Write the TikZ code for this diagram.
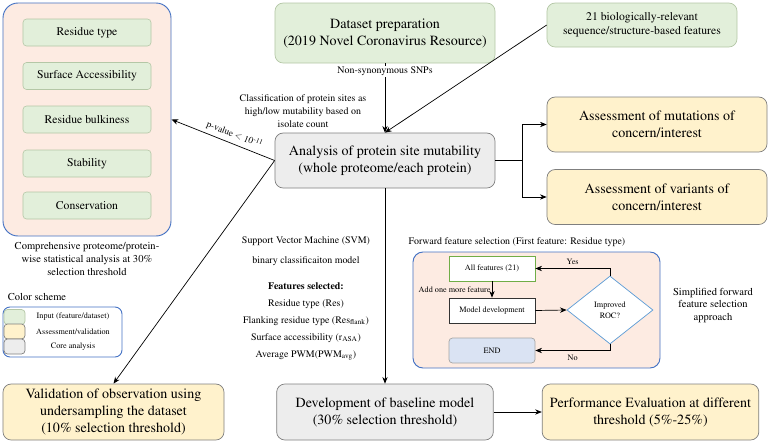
\documentclass[tikz,border=0pt]{standalone}
\usepackage[T1]{fontenc}
\usepackage{mathptmx}
\usetikzlibrary{shapes.geometric,arrows.meta,positioning}
\definecolor{inputgreen}{HTML}{E2EFDA}
\definecolor{inputedge}{HTML}{B4C7A6}
\definecolor{evalyellow}{HTML}{FFF2CC}
\definecolor{coregrey}{HTML}{EDEDED}
\definecolor{boxedge}{HTML}{7F7F7F}
\definecolor{panelpeach}{HTML}{FDEBE2}
\definecolor{panelblue}{HTML}{4472C4}
\definecolor{endblue}{HTML}{DAE3F3}
\definecolor{diamblue}{HTML}{5B9BD5}
\definecolor{allgreen}{HTML}{70AD47}
\newcommand{\fbig}{\fontsize{12}{14.5}\selectfont}
\newcommand{\fmid}{\fontsize{10}{12}\selectfont}
\newcommand{\fsmall}{\fontsize{8.5}{11}\selectfont}
\newcommand{\ftiny}{\fontsize{7}{9}\selectfont}

\begin{document}
\begin{tikzpicture}[
  x=0.03cm, y=-0.03cm,
  every node/.style={font=\fsmall},
  mbox/.style={rounded corners=7pt,minimum width=6.6cm,minimum height=1.65cm,
               align=center,font=\fbig,line width=0.6pt},
  inbox/.style={mbox,fill=inputgreen,draw=inputedge},
  evalbox/.style={mbox,fill=evalyellow,draw=boxedge},
  corebox/.style={mbox,fill=coregrey,draw=boxedge},
  panel/.style={fill=panelpeach,draw=panelblue,line width=0.8pt},
  featbox/.style={fill=inputgreen,draw=inputedge,rounded corners=3pt,
                  minimum width=3.84cm,minimum height=0.81cm,font=\fmid,line width=0.5pt},
  swatch/.style={rounded corners=3pt,minimum width=0.63cm,minimum height=0.45cm,
                 inner sep=0pt,line width=0.6pt},
  flowbox/.style={minimum width=2.58cm,minimum height=0.75cm,font=\ftiny,line width=0.6pt},
  arr/.style={-{Stealth[length=2mm,width=1.6mm]},line width=0.6pt},
  labl/.style={font=\fsmall,align=center}
]
\useasboundingbox (0,0) rectangle (770,443);

% Left panel — statistical analysis
\node[panel,rounded corners=0.45cm,minimum width=5.04cm,minimum height=6.99cm] (panel) at (87,119.5) {};
\node[featbox] (rtype) at (87,32.5)  {Residue type};
\node[featbox] (sacc)  at (87,76)    {Surface Accessibility};
\node[featbox] (bulk)  at (87,119.5) {Residue bulkiness};
\node[featbox] (stab)  at (87,163.5) {Stability};
\node[featbox] (cons)  at (87,205.5) {Conservation};
\node[labl,font=\fontsize{9}{11.5}\selectfont] (stattxt) at (87,259)
  {Comprehensive proteome/protein-\\wise statistical analysis at 30\%\\selection threshold};

% Colour scheme legend
\node[font=\fontsize{9}{11}\selectfont] (legtitle) at (37,297) {Color scheme};
\node[draw=panelblue,rounded corners=6pt,line width=0.8pt,minimum width=3.57cm,minimum height=1.5cm] (legend) at (62.5,332) {};
\node[swatch,fill=inputgreen,draw=inputedge] (sw1) at (14.5,317)   {};
\node[swatch,fill=evalyellow,draw=boxedge]   (sw2) at (14.5,331.5) {};
\node[swatch,fill=coregrey,draw=boxedge]     (sw3) at (14.5,346.5) {};
\node[font=\ftiny] (lg1) at (73,317)   {Input (feature/dataset)};
\node[font=\ftiny] (lg2) at (73,331.5) {Assessment/validation};
\node[font=\ftiny] (lg3) at (73,346.5) {Core analysis};

% Inputs
\node[inbox,minimum height=1.8cm] (dataset) at (385,33)
  {Dataset preparation\\(2019 Novel Coronavirus Resource)};
\node[inbox,font=\fmid,minimum width=5.7cm,minimum height=1.32cm] (feat21) at (642,25)
  {21 biologically-relevant\\sequence/structure-based features};
\node[labl] (classtxt) at (303,111)
  {Classification of protein sites as\\high/low mutability based on\\isolate count};

% Core analysis
\node[corebox] (analysis) at (385,160.5)
  {Analysis of protein site mutability\\(whole proteome/each protein)};

% Assessments
\node[evalbox] (mutations) at (657,124.5) {Assessment of mutations of\\concern/interest};
\node[evalbox] (variants)  at (657,197)   {Assessment of variants of\\concern/interest};
\node[evalbox,minimum width=6.63cm,minimum height=1.68cm] (valid) at (113.5,412)
  {Validation of observation using\\undersampling the dataset\\(10\% selection threshold)};

% Model
\node[labl] (svmtxt) at (306,298.5)
  {Support Vector Machine (SVM)\\[6pt]
   binary classificaiton model\\[11pt]
   \textbf{Features selected:}\\[3.5pt]
   Residue type (Res)\\[3.5pt]
   Flanking residue type (Res\textsubscript{flank})\\[3.5pt]
   Surface accessibility (r\textsubscript{ASA})\\[3.5pt]
   Average PWM(PWM\textsubscript{avg})};
\node[corebox,minimum width=6.5cm,minimum height=1.68cm] (baseline) at (385,412)
  {Development of baseline model\\(30\% selection threshold)};
\node[evalbox,minimum width=6.5cm,minimum height=1.68cm] (perf) at (650.5,412)
  {Performance Evaluation at different\\threshold (5\%-25\%)};

% Forward feature selection
\node (ffstitle) at (517,242) {Forward feature selection (First feature: Residue type)};
\node[panel,rounded corners=0.3cm,minimum width=7.41cm,minimum height=3.48cm] (ffs) at (536.5,310) {};
\node[flowbox,fill=white,draw=allgreen] (allf) at (492,268.5) {All features (21)};
\node[flowbox,fill=white,draw=black!80] (modeldev) at (492,310.5) {Model development};
\node[flowbox,fill=endblue,draw=boxedge!70,rounded corners=3pt] (endbox) at (492,350.5) {END};
\node[diamond,draw=diamblue,fill=white,line width=0.6pt,inner sep=0pt,
      minimum width=2.58cm,minimum height=2.04cm,font=\ftiny,align=center] (roc) at (610,310)
  {Improved\\ROC?};
\node[labl,font=\fontsize{9}{11}\selectfont] (simptxt) at (713,305.5)
  {Simplified forward\\feature selection\\approach};

% Arrows
\draw[arr] (dataset.south) -- node[pos=0.12,fill=white,inner sep=1pt] {Non-synonymous SNPs} (analysis.north);
\draw[arr] (feat21.west) -- (analysis.north);
\draw[arr] (analysis.east) -- ++(27,0) |- (mutations.west);
\draw[arr] (analysis.east) -- ++(27,0) |- (variants.west);
\draw[arr] (analysis.west) -- node[sloped,above,pos=0.42,font=\fontsize{8}{10}\selectfont] {p-value $<$ 10\textsuperscript{-11}} (panel.east);
\draw[arr] (analysis.west) -- (valid.north);
\draw[arr] (analysis.south) -- (baseline.north);
\draw[arr] (baseline.east) -- (perf.west);
% inside the forward selection loop
\draw[arr] (allf.south) -- node[left,font=\ftiny,inner sep=1pt] {Add one more feature} (modeldev.north);
\draw[arr] (modeldev.east) -- (roc.west);
\draw[arr] (roc.north) |- node[pos=0.75,above,font=\ftiny] {Yes} (allf.east);
\draw[arr] (roc.south) |- node[pos=0.75,below,font=\ftiny] {No} (endbox.east);

\end{tikzpicture}
\end{document}
